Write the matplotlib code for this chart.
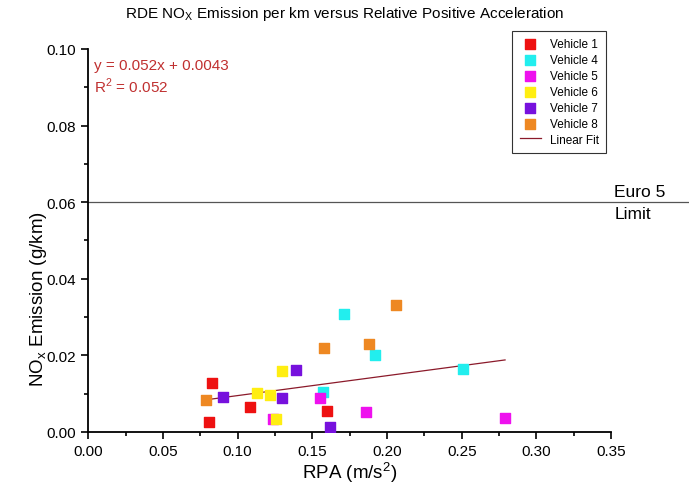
import matplotlib
matplotlib.use("Agg")
import matplotlib.pyplot as plt
from matplotlib.ticker import MultipleLocator

plt.rcParams["font.family"] = ["Liberation Sans", "DejaVu Sans"]
plt.rcParams["mathtext.fontset"] = "custom"
plt.rcParams["mathtext.rm"] = "Liberation Sans"

# data (RPA m/s^2, NOx g/km)
v1_x = [0.083, 0.081, 0.108, 0.160]
v1_y = [0.0127, 0.0025, 0.0066, 0.0056]
v4_x = [0.157, 0.171, 0.192, 0.251]
v4_y = [0.0104, 0.0308, 0.0202, 0.0164]
v5_x = [0.124, 0.155, 0.186, 0.279]
v5_y = [0.0033, 0.0090, 0.0053, 0.0037]
v6_x = [0.113, 0.122, 0.130, 0.126]
v6_y = [0.0102, 0.0097, 0.0160, 0.0034]
v7_x = [0.090, 0.130, 0.139, 0.162]
v7_y = [0.0091, 0.0089, 0.0162, 0.0012]
v8_x = [0.079, 0.158, 0.188, 0.206]
v8_y = [0.0084, 0.0218, 0.0229, 0.0332]

series = [
    ("Vehicle 1", v1_x, v1_y, "#ee1111"),
    ("Vehicle 4", v4_x, v4_y, "#22eeee"),
    ("Vehicle 5", v5_x, v5_y, "#ee11ee"),
    ("Vehicle 6", v6_x, v6_y, "#ffee11"),
    ("Vehicle 7", v7_x, v7_y, "#7711dd"),
    ("Vehicle 8", v8_x, v8_y, "#ee8822"),
]

fit_slope = 0.052
fit_icpt = 0.0043
fit_range = [0.079, 0.279]
euro5_limit = 0.06

fig = plt.figure(figsize=(6.89, 5.02), dpi=100)
ax = fig.add_axes([0.128, 0.1375, 0.759, 0.763])

for name, xs, ys, col in series:
    ax.scatter(xs, ys, marker="s", s=50, color=col, label=name, zorder=3)

fx = fit_range
fy = [fit_slope * x + fit_icpt for x in fx]
ax.plot(fx, fy, color="#8b1a2a", lw=0.9, label="Linear Fit", zorder=2)

ax.plot([0, 0.41], [euro5_limit, euro5_limit], color="#555555", lw=0.9,
        clip_on=False, zorder=1)
ax.text(0.352, euro5_limit, "Euro 5\nLimit", fontsize=12.5, va="center", ha="left",
        linespacing=1.6)

ax.text(0.004, 0.0948, "y = 0.052x + 0.0043", color="#c03030", fontsize=11)
ax.text(0.004, 0.0888, "R$^\\mathrm{2}$ = 0.052", color="#c03030", fontsize=11)

ax.set_xlim(0, 0.35)
ax.set_ylim(0, 0.10)
ax.xaxis.set_major_locator(MultipleLocator(0.05))
ax.xaxis.set_minor_locator(MultipleLocator(0.025))
ax.yaxis.set_major_locator(MultipleLocator(0.02))
ax.yaxis.set_minor_locator(MultipleLocator(0.01))
ax.xaxis.set_major_formatter(lambda v, p: f"{v:.2f}")
ax.yaxis.set_major_formatter(lambda v, p: f"{v:.2f}")
ax.tick_params(which="both", direction="out", labelsize=11, width=1.2)
ax.tick_params(which="major", length=5)
ax.tick_params(which="minor", length=3)

ax.spines["top"].set_visible(False)
ax.spines["right"].set_visible(False)
ax.spines["left"].set_linewidth(1.3)
ax.spines["bottom"].set_linewidth(1.3)

ax.set_xlabel("RPA (m/s$^\\mathrm{2}$)", fontsize=13.5, labelpad=1)
ax.set_ylabel("NO$_\\mathrm{x}$ Emission (g/km)", fontsize=13.5)
ax.yaxis.set_label_coords(-0.075, 0.35)
fig.suptitle("RDE NO$_\\mathrm{X}$ Emission per km versus Relative Positive Acceleration",
             fontsize=11, y=0.99)

leg = ax.legend(loc="upper right", fontsize=8.5, frameon=True, fancybox=False,
                edgecolor="black", handlelength=1.8, borderpad=0.6,
                labelspacing=0.33, bbox_to_anchor=(1.002, 1.062))
leg.get_frame().set_linewidth(0.8)

fig.savefig("out.png", dpi=100)
